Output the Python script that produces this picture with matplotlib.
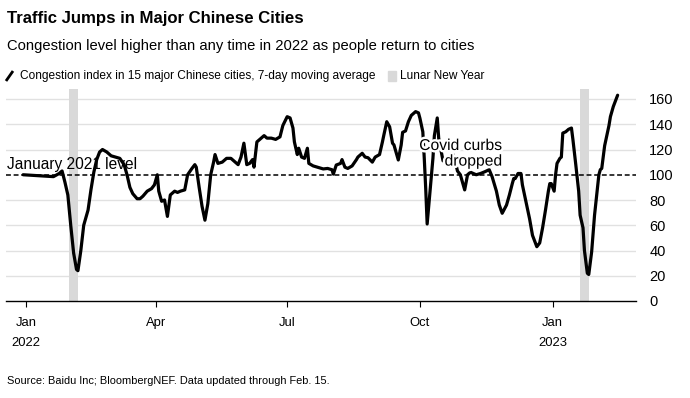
import matplotlib
matplotlib.use("Agg")
import matplotlib.pyplot as plt
import matplotlib.patheffects as pe
from matplotlib.lines import Line2D
from matplotlib.patches import Rectangle
import pandas as pd

# ---------------- data ----------------
dates = [
    "2021-12-30", "2022-01-06", "2022-01-13", "2022-01-20", "2022-01-24", "2022-01-26",
    "2022-01-28", "2022-01-30", "2022-02-01", "2022-02-03", "2022-02-05", "2022-02-06",
    "2022-02-08", "2022-02-10", "2022-02-12", "2022-02-13", "2022-02-15", "2022-02-17",
    "2022-02-19", "2022-02-21", "2022-02-23", "2022-02-26", "2022-03-01", "2022-03-04",
    "2022-03-07", "2022-03-10", "2022-03-12", "2022-03-14", "2022-03-16", "2022-03-19",
    "2022-03-21", "2022-03-23", "2022-03-26", "2022-03-29", "2022-03-31", "2022-04-02",
    "2022-04-03", "2022-04-05", "2022-04-07", "2022-04-09", "2022-04-11", "2022-04-12",
    "2022-04-14", "2022-04-16", "2022-04-18", "2022-04-21", "2022-04-23", "2022-04-26",
    "2022-04-28", "2022-04-29", "2022-05-01", "2022-05-03", "2022-05-05", "2022-05-07",
    "2022-05-09", "2022-05-11", "2022-05-12", "2022-05-14", "2022-05-17", "2022-05-20",
    "2022-05-23", "2022-05-26", "2022-05-28", "2022-05-30", "2022-06-01", "2022-06-03",
    "2022-06-05", "2022-06-07", "2022-06-08", "2022-06-10", "2022-06-13", "2022-06-15",
    "2022-06-17", "2022-06-20", "2022-06-23", "2022-06-26", "2022-06-28", "2022-07-01",
    "2022-07-03", "2022-07-05", "2022-07-06", "2022-07-08", "2022-07-09", "2022-07-11",
    "2022-07-13", "2022-07-15", "2022-07-16", "2022-07-19", "2022-07-23", "2022-07-26",
    "2022-07-29", "2022-08-01", "2022-08-02", "2022-08-04", "2022-08-07", "2022-08-08",
    "2022-08-10", "2022-08-12", "2022-08-15", "2022-08-18", "2022-08-19", "2022-08-22",
    "2022-08-24", "2022-08-26", "2022-08-29", "2022-08-31", "2022-09-03", "2022-09-05",
    "2022-09-06", "2022-09-08", "2022-09-10", "2022-09-12", "2022-09-13", "2022-09-15",
    "2022-09-16", "2022-09-18", "2022-09-19", "2022-09-21", "2022-09-23", "2022-09-25",
    "2022-09-28", "2022-09-30", "2022-10-01", "2022-10-03", "2022-10-04", "2022-10-05",
    "2022-10-06", "2022-10-08", "2022-10-10", "2022-10-11", "2022-10-13", "2022-10-14",
    "2022-10-16", "2022-10-17", "2022-10-18", "2022-10-21", "2022-10-24", "2022-10-26",
    "2022-10-27", "2022-10-29", "2022-11-01", "2022-11-03", "2022-11-05", "2022-11-09",
    "2022-11-12", "2022-11-15", "2022-11-18", "2022-11-20", "2022-11-23", "2022-11-25",
    "2022-11-27", "2022-11-30", "2022-12-02", "2022-12-04", "2022-12-05", "2022-12-06",
    "2022-12-08", "2022-12-10", "2022-12-11", "2022-12-14", "2022-12-16", "2022-12-18",
    "2022-12-21", "2022-12-23", "2022-12-25", "2022-12-27", "2022-12-29", "2022-12-30",
    "2022-12-31", "2023-01-02", "2023-01-03", "2023-01-04", "2023-01-06", "2023-01-07",
    "2023-01-08", "2023-01-10", "2023-01-12", "2023-01-14", "2023-01-15", "2023-01-17",
    "2023-01-19", "2023-01-20", "2023-01-22", "2023-01-23", "2023-01-25", "2023-01-26",
    "2023-01-28", "2023-01-30", "2023-02-02", "2023-02-03", "2023-02-04", "2023-02-06",
    "2023-02-09", "2023-02-10", "2023-02-12", "2023-02-15",
]
congestion = [
    100, 99.5, 99, 98.5, 101, 103,
    94, 84, 60, 38, 25, 24,
    40, 60, 68, 72, 88, 102,
    112, 118, 120, 118, 115, 114,
    113, 108, 100, 90, 85, 81,
    81, 83, 87, 89, 92, 100,
    87, 79, 80, 67, 84, 85,
    87, 86, 87, 88, 100, 105,
    108, 106, 90, 75, 64, 77,
    100, 110, 116, 109, 110, 113,
    113, 110, 108, 114, 125, 108,
    109, 112, 106, 126, 129, 131,
    129, 129, 128, 130, 139, 146,
    145, 137, 126, 116, 121, 114,
    113, 121, 109, 107, 105.6, 104.6,
    105, 104, 100.5, 107.7, 109, 112,
    106, 105, 107, 112, 114, 117,
    114, 113.5, 110, 114, 116, 126,
    131.5, 142, 138, 125, 123.6, 115.6,
    111.7, 123.6, 133.6, 134.7, 142, 147,
    150, 149, 144.7, 134, 113, 89,
    61, 87, 113, 131, 145, 129,
    117, 111, 112, 114, 116, 108,
    103, 100, 88, 100, 102, 100,
    101, 102.4, 104, 98.5, 87, 76,
    69.5, 76, 84, 93, 97, 97,
    101, 101, 92, 76, 65, 52,
    43, 46, 58, 72, 87, 93,
    93, 87, 100, 109, 113, 114,
    133, 134, 136, 137, 128, 108,
    87, 68, 58, 40, 22, 21,
    39, 68, 100, 104, 105, 123,
    139, 146, 154, 163,
]
lunar_new_year = [("2022-01-31", "2022-02-06"), ("2023-01-20", "2023-01-26")]
baseline_level = 100
y_ticks = [0, 20, 40, 60, 80, 100, 120, 140, 160]
x_tick_dates = ["2022-01-01", "2022-04-01", "2022-07-01", "2022-10-01", "2023-01-01"]
x_tick_labels = ["Jan\n2022", "Apr", "Jul", "Oct", "Jan\n2023"]

title = "Traffic Jumps in Major Chinese Cities"
subtitle = "Congestion level higher than any time in 2022 as people return to cities"
legend_line = "Congestion index in 15 major Chinese cities, 7-day moving average"
legend_band = "Lunar New Year"
note_baseline = "January 2021 level"
note_covid = "Covid curbs\ndropped"
covid_note_date = "2022-11-27"
source = "Source: Baidu Inc; BloombergNEF. Data updated through Feb. 15."

# ---------------- styling / layout ----------------
plt.rcParams["font.family"] = ["Liberation Sans", "DejaVu Sans"]
W, H = 690, 398
fig = plt.figure(figsize=(W / 100, H / 100), dpi=100)
fig.patch.set_facecolor("white")


def fx(px):
    return px / W


def fy(py):
    return 1 - py / H


x_left_px, x_right_px, y_zero_px = 6, 636, 301
px_per_unit = 1.2625
ymax = 168
top_px = y_zero_px - ymax * px_per_unit
ax = fig.add_axes([fx(x_left_px), fy(y_zero_px),
                   (x_right_px - x_left_px) / W, (y_zero_px - top_px) / H])

t = pd.to_datetime(dates)
jan1 = pd.Timestamp("2022-01-01")
px_per_day = 1.443
ax.set_xlim(jan1 - pd.Timedelta(days=(26 - x_left_px) / px_per_day),
            jan1 + pd.Timedelta(days=(x_right_px - 26) / px_per_day))
ax.set_ylim(0, ymax)

for s, e in lunar_new_year:
    ax.axvspan(pd.Timestamp(s), pd.Timestamp(e), color="#d9d9d9", lw=0, zorder=1)

for yv in y_ticks[1:]:
    if yv == baseline_level:
        continue
    ax.axhline(yv, color="#e1e1e1", lw=1.0, zorder=0.5)
ax.axhline(baseline_level, color="black", lw=1.1, ls=(0, (3.2, 1.8)), zorder=2)

ax.plot(t, congestion, color="black", lw=2.3, solid_joinstyle="round",
        solid_capstyle="round", zorder=3)

for sp in ["top", "left", "right"]:
    ax.spines[sp].set_visible(False)
ax.spines["bottom"].set_color("black")
ax.spines["bottom"].set_linewidth(1.0)
ax.spines["bottom"].set_zorder(4)

ax.set_xticks(pd.to_datetime(x_tick_dates))
ax.set_xticklabels(x_tick_labels, fontsize=9.4, linespacing=1.85)
ax.tick_params(axis="x", length=4.5, width=0.8, color="black", pad=7)
ax.yaxis.tick_right()
ax.set_yticks(y_ticks)
ax.set_yticklabels([str(v) for v in y_ticks], fontsize=10.5)
ax.tick_params(axis="y", length=0, pad=9.5)
ax.patch.set_alpha(0)

# annotations
ax.text((7 - x_left_px) / (x_right_px - x_left_px), 104.5, note_baseline,
        transform=ax.get_yaxis_transform(), fontsize=11.2, ha="left",
        va="baseline", zorder=5)
ax.text(pd.Timestamp(covid_note_date), 117, note_covid, fontsize=11.3,
        ha="right", va="center", multialignment="right", linespacing=1.05,
        zorder=5, path_effects=[pe.withStroke(linewidth=3.5, foreground="white")])

# titles
fig.text(fx(7), fy(18), title, fontsize=12.1, fontweight="bold", va="center", ha="left")
fig.text(fx(7), fy(46), subtitle, fontsize=10.6, va="center", ha="left")

# legend
fig.add_artist(Line2D([fx(6), fx(13)], [fy(81), fy(71)], color="black", lw=2.0,
                      solid_capstyle="butt"))
fig.text(fx(20), fy(76), legend_line, fontsize=8.6, va="center", ha="left")
fig.add_artist(Rectangle((fx(388), fy(81)), 8 / W, 10 / H, color="#d9d9d9",
                         transform=fig.transFigure))
fig.text(fx(400), fy(76), legend_band, fontsize=8.6, va="center", ha="left")

fig.text(fx(7), fy(381), source, fontsize=7.9, va="center", ha="left")

fig.savefig("out.png", dpi=100, facecolor="white")
